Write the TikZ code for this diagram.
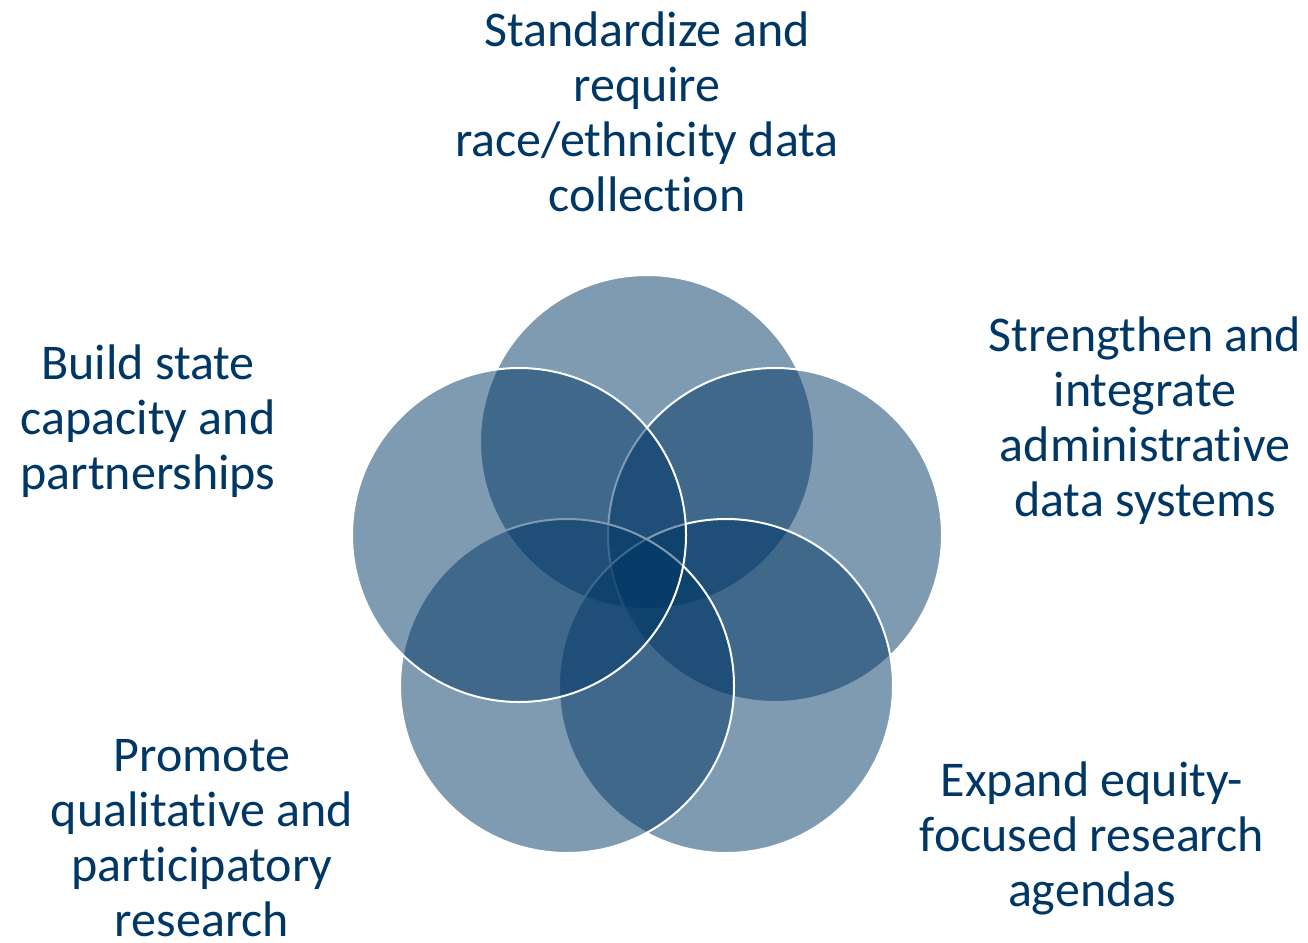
\documentclass[tikz,border=0pt]{standalone}
\usepackage{fontspec}
\setmainfont[Ligatures=NoCommon]{Carlito}
\usetikzlibrary{positioning}
\definecolor{navy}{RGB}{0,55,101}
\tikzset{
  petal/.style={circle,draw=white,line width=2pt,fill=navy,fill opacity=0.5,minimum size=334pt,inner sep=0pt},
  goal/.style={align=center,text=navy,font=\fontsize{50}{55}\selectfont}
}
\begin{document}
\begin{tikzpicture}[x=1pt,y=-1pt]
\useasboundingbox (0,0) rectangle (1308,942);
% Five overlapping circles
\node[petal] (std) at (647,442) {};
\node[petal] (adm) at (775,535) {};
\node[petal] (eqt) at (726,686) {};
\node[petal] (qual) at (567,686) {};
\node[petal] (cap) at (519,535) {};
% Labels round the circles
\node[goal] (stdlab) at (647,112) {Standardize and\\require\\race/ethnicity data\\collection};
\node[goal] (admlab) at (1145,421) {Strengthen and\\integrate\\administrative\\data systems};
\node[goal] (eqtlab) at (1092,838) {Expand equity-\\focused research\\agendas};
\node[goal] (quallab) at (202,838) {Promote\\qualitative and\\participatory\\research};
\node[goal] (caplab) at (148,421) {Build state\\capacity and\\partnerships};
\end{tikzpicture}
\end{document}
